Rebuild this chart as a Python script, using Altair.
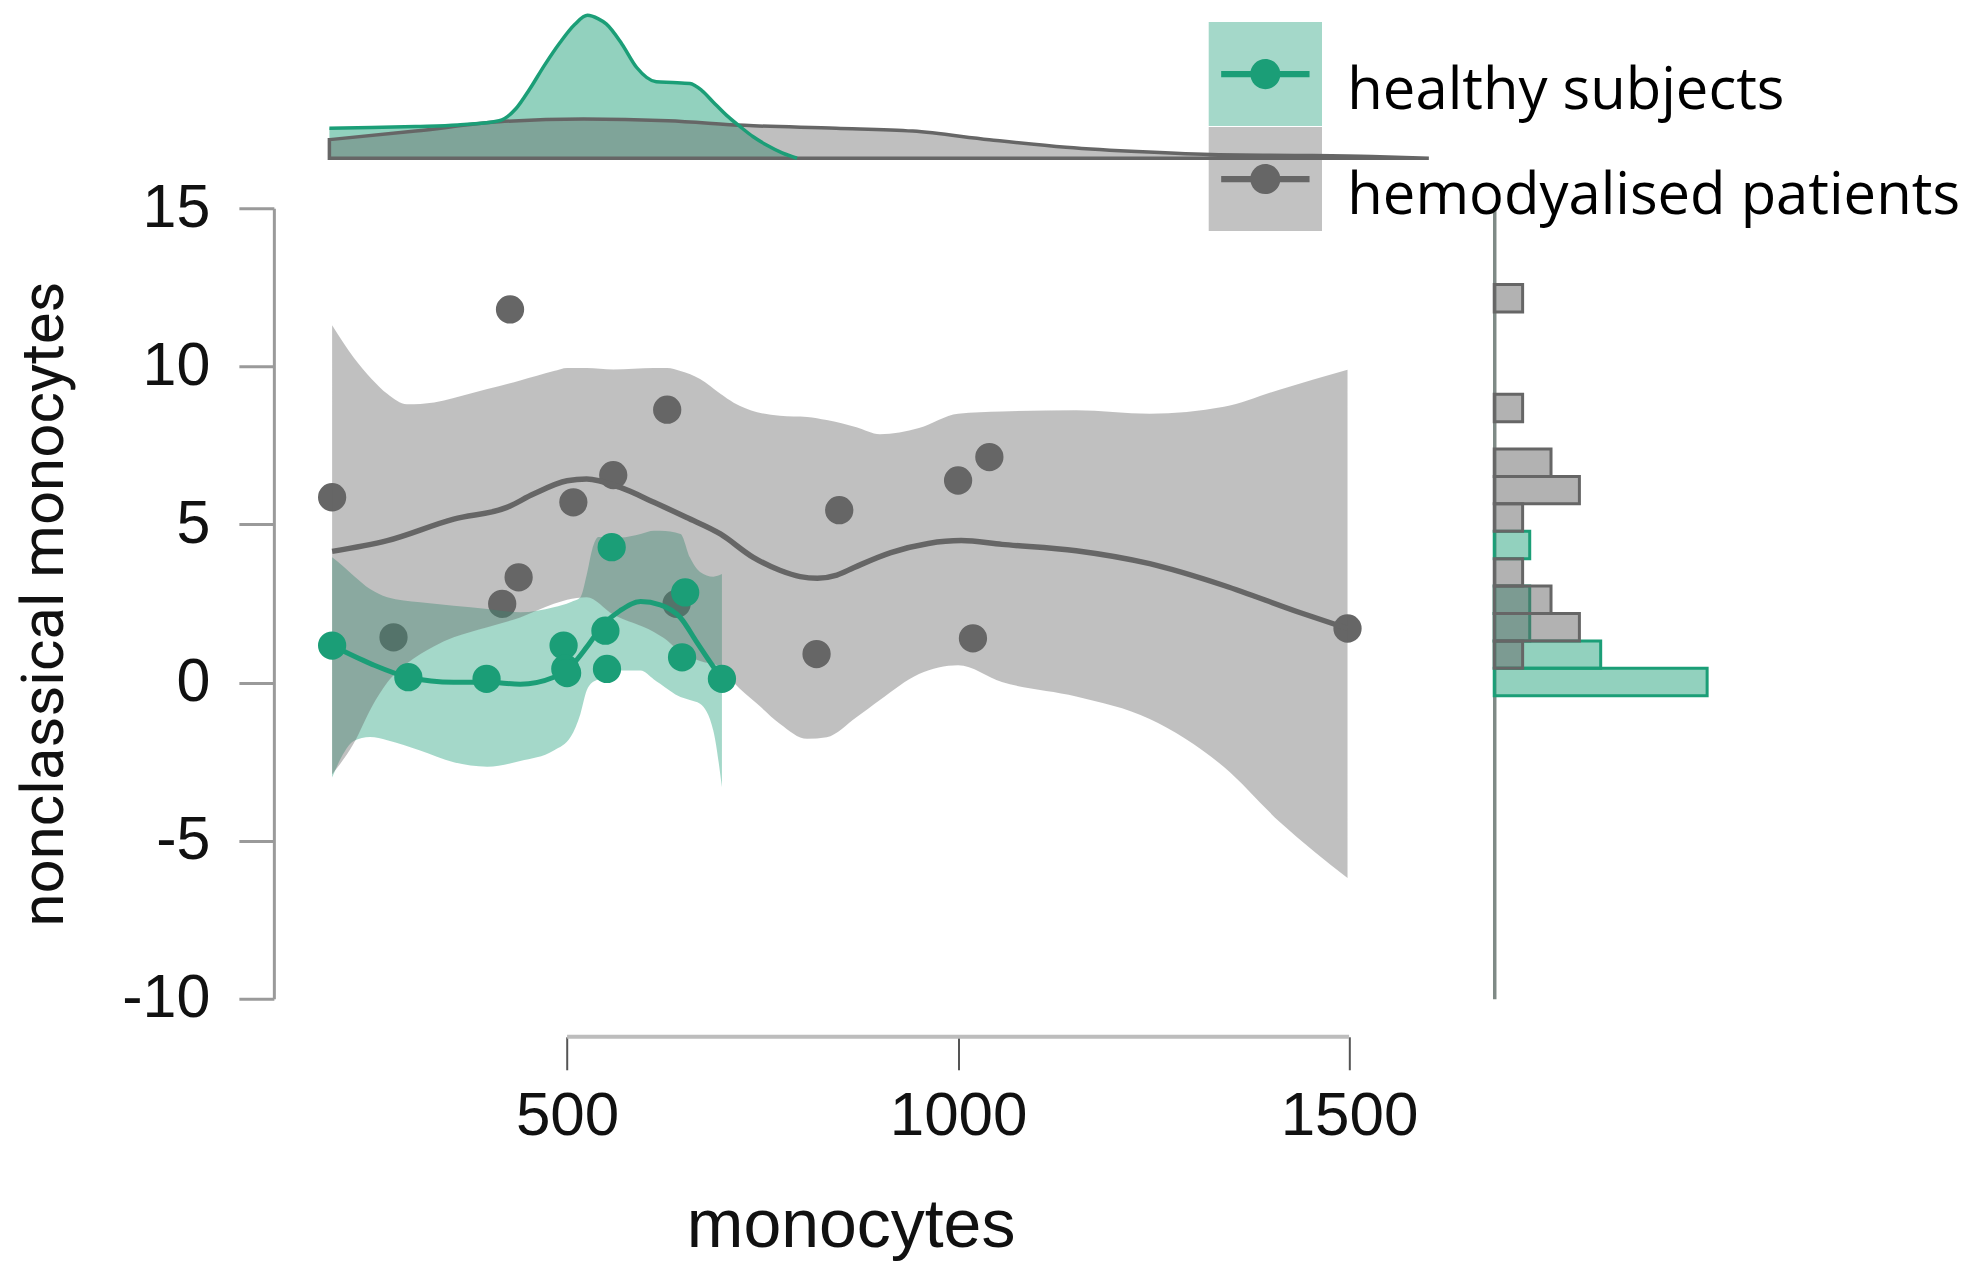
import altair as alt
import pandas as pd

# ---------------- data ----------------
GROUPS = ["healthy subjects", "hemodyalised patients"]
BAND_SERIES = ["healthy subjects band", "hemodyalised patients band"]
COLORS = ["#1b9e77", "#666666"]

x_ticks = [500, 1000, 1500]
y_ticks = [-10, -5, 0, 5, 10, 15]

# scatter points
healthy_x = [199.5, 297, 397, 495.5, 497.7, 500, 549, 551, 557, 647, 651, 698]
healthy_y = [1.17, 0.17, 0.12, 1.17, 0.44, 0.30, 1.64, 0.43, 4.28, 0.80, 2.85, 0.12]
hemo_x = [199.5, 278, 417, 427, 438, 508, 559, 628, 640, 819, 848, 1000, 1019, 1040, 1498]
hemo_y = [5.86, 1.43, 2.49, 11.8, 3.33, 5.70, 6.56, 8.63, 2.49, 0.90, 5.45, 6.39, 1.40, 7.13, 1.71]

# smooth (loess) fits
healthy_fit_x = [199.5, 248.5, 297, 355, 398, 440, 483, 508, 525, 547, 568, 594, 619, 645, 666, 687, 698]
healthy_fit_y = [1.17, 0.60, 0.17, 0.01, 0.01, -0.05, 0.17, 0.60, 1.12, 1.85, 2.28, 2.56, 2.46, 2.05, 1.27, 0.50, 0.12]
hemo_fit_x = [199.5, 270, 355, 423, 457, 500, 525, 568, 611, 653, 696, 738, 772, 798, 820, 845, 867,
              914, 962, 1004, 1056, 1151, 1245, 1340, 1434, 1498]
hemo_fit_y = [4.15, 4.49, 5.17, 5.54, 5.96, 6.38, 6.44, 6.17, 5.70, 5.22, 4.70, 3.96, 3.55, 3.35, 3.30, 3.40, 3.64,
              4.11, 4.40, 4.49, 4.37, 4.17, 3.76, 3.07, 2.24, 1.71]

# confidence bands
healthy_band_x = [199.5, 215, 227, 248, 270, 312, 355, 398, 440, 483, 505, 517, 525, 532, 540, 568, 594, 611,
                  619, 645, 657, 670, 687, 698]
healthy_band_lo = [-3.0, -2.2, -1.85, -1.72, -1.82, -2.15, -2.52, -2.66, -2.48, -2.15, -1.7, -0.99, -0.25, 0.0, 0.1,
                   0.38, 0.38, 0.10, -0.04, -0.46, -0.55, -0.67, -1.52, -3.31]
healthy_band_hi = [3.96, 3.65, 3.38, 2.96, 2.70, 2.54, 2.43, 2.33, 2.22, 2.38, 2.55, 2.70, 3.40, 4.20, 4.60, 4.59,
                   4.70, 4.80, 4.80, 4.70, 3.96, 3.50, 3.35, 3.43]
hemo_band_x = [199.5, 227, 250, 270, 295, 330, 355, 398, 440, 483, 500, 525, 559, 611, 628, 645, 670, 696, 713,
               743, 772, 807, 832, 870, 900, 950, 1000, 1056, 1151, 1245, 1340, 1411, 1498]
hemo_band_lo = [-2.9, -1.93, -0.78, 0.0, 0.6, 1.15, 1.43, 1.75, 2.06, 2.49, 2.62, 2.70, 2.15, 1.60, 1.33, 0.95, 0.68,
                0.50, 0.0, -0.67, -1.30, -1.78, -1.73, -1.10, -0.55, 0.27, 0.55, 0.02, -0.44, -1.15, -2.67, -4.4, -6.18]
hemo_band_hi = [11.3, 10.28, 9.6, 9.13, 8.8, 8.86, 9.0, 9.28, 9.55, 9.85, 9.95, 9.95, 9.9, 9.95, 9.95, 9.85, 9.6,
                9.13, 8.85, 8.55, 8.44, 8.40, 8.30, 8.07, 7.85, 8.05, 8.50, 8.57, 8.61, 8.50, 8.72, 9.26, 9.89]

# marginal densities of monocytes (x 10^-3)
healthy_dens_x = [196, 250, 306, 360, 413, 435, 452, 471, 491, 510, 526, 540, 550, 570, 589, 614, 635, 657, 672,
                  687, 704, 721, 738, 755, 775, 794]
healthy_dens_y = [0.84, 0.86, 0.89, 0.93, 1.05, 1.40, 1.93, 2.60, 3.24, 3.75, 4.00, 3.90, 3.76, 3.20, 2.54, 2.14,
                  2.12, 2.09, 1.90, 1.57, 1.20, 0.89, 0.60, 0.37, 0.15, 0.0]
hemo_dens_x = [196, 306, 413, 521, 629, 727, 844, 942, 1040, 1138, 1236, 1333, 1431, 1529, 1602]
hemo_dens_y = [0.52, 0.76, 1.02, 1.10, 1.05, 0.92, 0.84, 0.76, 0.52, 0.31, 0.18, 0.10, 0.08, 0.05, 0.0]

# ---------------- tables ----------------
n_h, n_g = len(healthy_x), len(hemo_x)
pts_h = pd.DataFrame({"monocytes": healthy_x, "value": healthy_y, "group": GROUPS[0], "w": 1.0 / n_h})
pts_g = pd.DataFrame({"monocytes": hemo_x, "value": hemo_y, "group": GROUPS[1], "w": 1.0 / n_g})
fit_h = pd.DataFrame({"monocytes": healthy_fit_x, "value": healthy_fit_y})
fit_g = pd.DataFrame({"monocytes": hemo_fit_x, "value": hemo_fit_y})
band_h = pd.DataFrame({"monocytes": healthy_band_x, "lo": healthy_band_lo, "hi": healthy_band_hi,
                       "series": BAND_SERIES[0]})
band_g = pd.DataFrame({"monocytes": hemo_band_x, "lo": hemo_band_lo, "hi": hemo_band_hi,
                       "series": BAND_SERIES[1]})
dens_h = pd.DataFrame({"monocytes": healthy_dens_x, "density": healthy_dens_y})
dens_g = pd.DataFrame({"monocytes": hemo_dens_x, "density": hemo_dens_y})
axis_df = pd.DataFrame({"monocytes": [min(x_ticks)], "end": [max(x_ticks)]})

# ---------------- scales / axes ----------------
W, H = 1154, 791
HIST_W = 213
DENS_H = 143
xs = alt.Scale(domain=[125, 1600], nice=False, zero=False)
ys = alt.Scale(domain=[-10, 15], nice=False, zero=False)
color_scale = alt.Scale(domain=GROUPS, range=COLORS)
fill_scale = alt.Scale(domain=BAND_SERIES, range=COLORS)

x_axis = alt.Axis(values=x_ticks, offset=38, domain=False, grid=False, tickSize=33, tickWidth=2,
                  tickColor="#555555", labelFont="Liberation Sans", labelFontSize=62, labelColor="#111111",
                  labelPadding=16, labelExpr="'' + datum.value", title="monocytes", titleFont="Liberation Sans",
                  titleFontSize=68, titleFontWeight="normal", titleColor="#111111", titlePadding=46)
y_axis = alt.Axis(values=y_ticks, domain=True, domainColor="#9a9a9a", domainWidth=3, grid=False, tickSize=35,
                  tickWidth=3, tickColor="#9a9a9a", labelFont="Liberation Sans", labelFontSize=61,
                  labelColor="#111111", labelPadding=29, labelExpr="'' + datum.value",
                  title="nonclassical monocytes", titleFont="Roboto", titleFontSize=60,
                  titleFontWeight="normal", titleColor="#111111", titlePadding=46)

# legend: the key symbols sit 0.35 units above the entry centre so that the labels
# end up slightly below the key, as in the reference; invisible points keep row height
LEG_X, LEG_Y = 940, 25
legend_common = dict(orient="none", legendX=LEG_X, legendY=LEG_Y, title=None, padding=0, rowPadding=0,
                     labelFont="Open Sans", labelFontSize=58, labelOffset=30, labelLimit=2000,
                     symbolSize=10816, symbolStrokeWidth=0)
fill_legend = alt.Legend(symbolType="M-1.09,-1.35H1.09V0.65H-1.09Z", symbolOpacity=0.4,
                         labelOpacity=0, labelExpr="''", zindex=0, **legend_common)
color_legend = alt.Legend(
    symbolType=("M0,-1.35L0,-1.35Z M0,0.65L0,0.65Z M-0.85,-0.41H0.85V-0.29H-0.85Z "
                "M-0.29,-0.35A0.29,0.29 0 1,1 0.29,-0.35A0.29,0.29 0 1,1 -0.29,-0.35Z"),
    symbolOpacity=1, labelColor="#000000", zindex=1, **legend_common)

X = alt.X("monocytes:Q", scale=xs, axis=x_axis)
Y = alt.Y("value:Q", scale=ys, axis=y_axis)

# ---------------- main scatter panel ----------------
gray_pts = alt.Chart(pts_g).mark_circle(size=800, opacity=1).encode(
    x=X, y=Y, color=alt.Color("group:N", scale=color_scale, legend=color_legend))
teal_band = alt.Chart(band_h).mark_area(fillOpacity=0.4, interpolate="monotone").encode(
    x=X, y=alt.Y("lo:Q", scale=ys, axis=y_axis), y2="hi:Q",
    fill=alt.Fill("series:N", scale=fill_scale, legend=fill_legend))
gray_band = alt.Chart(band_g).mark_area(fillOpacity=0.41, interpolate="monotone").encode(
    x=X, y=alt.Y("lo:Q", scale=ys, axis=y_axis), y2="hi:Q",
    fill=alt.Fill("series:N", scale=fill_scale, legend=fill_legend))
gray_line = alt.Chart(fit_g).mark_line(color=COLORS[1], strokeWidth=5.5, interpolate="monotone").encode(x=X, y=Y)
teal_line = alt.Chart(fit_h).mark_line(color=COLORS[0], strokeWidth=5, interpolate="monotone").encode(x=X, y=Y)
teal_pts = alt.Chart(pts_h).mark_circle(size=800, opacity=1).encode(
    x=X, y=Y, color=alt.Color("group:N", scale=color_scale, legend=color_legend))
axis_line = alt.Chart(axis_df).mark_rule(color="#bdbdbd", strokeWidth=4).encode(
    x=X, x2="end:Q", y=alt.value(H + 38))

main = alt.layer(gray_pts, teal_band, gray_band, gray_line, teal_line, teal_pts, axis_line).properties(
    width=W, height=H)

# ---------------- top density panel ----------------
DX = alt.X("monocytes:Q", scale=xs, axis=None)
DY = alt.Y("density:Q", scale=alt.Scale(domain=[0, 4.0], nice=False), axis=None)
green_area = alt.Chart(dens_h).mark_area(fill=COLORS[0], fillOpacity=0.48, interpolate="monotone").encode(
    x=DX, y=DY)
gray_area = alt.Chart(dens_g).mark_area(fill=COLORS[1], fillOpacity=0.42, stroke=COLORS[1], strokeWidth=3.5,
                                        interpolate="monotone").encode(x=DX, y=DY)
green_edge = alt.Chart(dens_h).mark_line(color=COLORS[0], strokeWidth=3.5, interpolate="monotone").encode(
    x=DX, y=DY)
density = alt.layer(green_area, gray_area, green_edge).properties(width=W, height=DENS_H)

# ---------------- right histogram panel ----------------
hbin = alt.Bin(extent=[-0.4, 12.6], step=0.8667, nice=False)
HY = alt.Y("value:Q", bin=hbin, scale=ys,
           axis=alt.Axis(labels=False, ticks=False, title=None, grid=False, domainColor="#7f8a86",
                         domainWidth=3.5))
HX = alt.X("sum(w):Q", scale=alt.Scale(domain=[0, 0.5], nice=False), axis=None)
green_hist = alt.Chart(pts_h).mark_bar(fill=COLORS[0], fillOpacity=0.48, stroke=COLORS[0], strokeWidth=3,
                                       binSpacing=0).encode(y=HY, x=HX)
gray_hist = alt.Chart(pts_g).mark_bar(fill=COLORS[1], fillOpacity=0.5, stroke=COLORS[1], strokeWidth=3,
                                      binSpacing=0).encode(y=HY, x=HX)
hist = alt.layer(green_hist, gray_hist).properties(width=HIST_W, height=H)

# ---------------- assemble ----------------
bottom = alt.hconcat(main, hist, spacing=67, bounds="flush")
chart = alt.vconcat(density, bottom, spacing=50, bounds="flush").properties(
    padding={"left": 6, "top": 0, "right": 0, "bottom": 0}, background="white").configure_view(stroke=None)

chart.save("out.html", embed_options={"renderer": "svg", "actions": False})
